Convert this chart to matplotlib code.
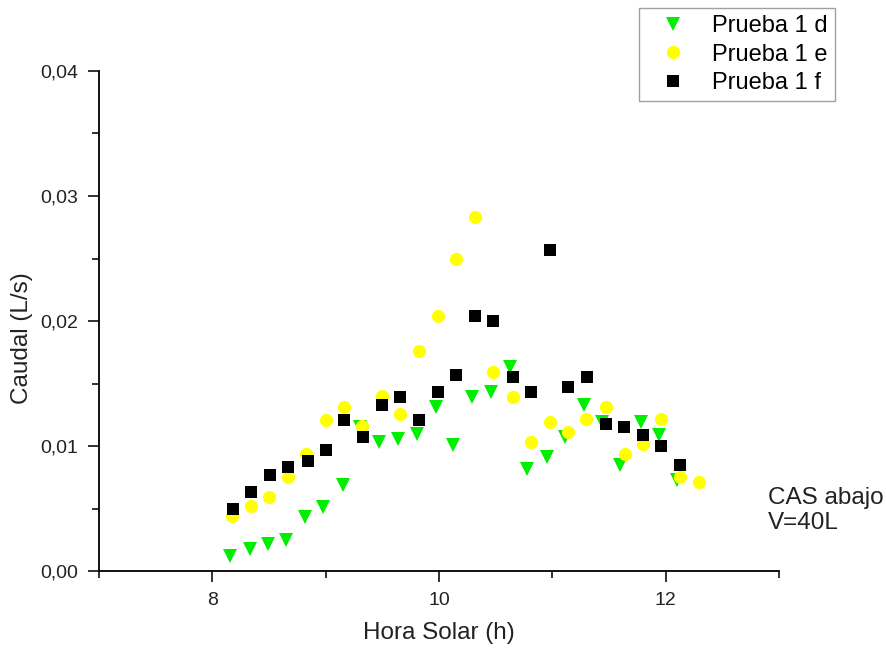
import matplotlib
matplotlib.use("Agg")
import matplotlib.pyplot as plt
from matplotlib.ticker import MultipleLocator, FuncFormatter

plt.rcParams['font.family'] = ['Liberation Sans', 'DejaVu Sans']

# Prueba 1 d (green triangles)
x_d = [8.16, 8.33, 8.49, 8.65, 8.82, 8.98, 9.15, 9.30, 9.47, 9.64, 9.81, 9.97,
       10.12, 10.29, 10.46, 10.63, 10.78, 10.95, 11.11, 11.28, 11.44, 11.60,
       11.78, 11.94, 12.10]
y_d = [0.0012, 0.0018, 0.0022, 0.0025, 0.0043, 0.0051, 0.0069, 0.0115, 0.0103,
       0.0106, 0.0110, 0.0131, 0.0101, 0.0139, 0.0143, 0.0163, 0.0082, 0.0091,
       0.0107, 0.0133, 0.0119, 0.0085, 0.0119, 0.0109, 0.0073]

# Prueba 1 e (yellow circles)
x_e = [8.17, 8.34, 8.50, 8.67, 8.83, 9.00, 9.16, 9.32, 9.50, 9.66, 9.82, 9.99,
       10.15, 10.32, 10.48, 10.65, 10.81, 10.98, 11.14, 11.30, 11.47, 11.64,
       11.80, 11.96, 12.13, 12.29]
y_e = [0.0044, 0.0052, 0.0059, 0.0075, 0.0094, 0.0121, 0.0131, 0.0116, 0.0140,
       0.0126, 0.0176, 0.0204, 0.0250, 0.0283, 0.0159, 0.0139, 0.0103, 0.0119,
       0.0111, 0.0122, 0.0131, 0.0094, 0.0102, 0.0122, 0.0075, 0.0071]

# Prueba 1 f (black squares)
x_f = [8.18, 8.34, 8.51, 8.67, 8.84, 9.00, 9.16, 9.33, 9.50, 9.66, 9.82, 9.99,
       10.15, 10.32, 10.48, 10.65, 10.81, 10.98, 11.14, 11.31, 11.47, 11.63,
       11.80, 11.96, 12.13]
y_f = [0.0050, 0.0063, 0.0077, 0.0083, 0.0088, 0.0097, 0.0121, 0.0107, 0.0133,
       0.0139, 0.0121, 0.0143, 0.0157, 0.0204, 0.0200, 0.0155, 0.0143, 0.0257,
       0.0147, 0.0155, 0.0118, 0.0115, 0.0109, 0.0100, 0.0085]

labels = ["Prueba 1 d", "Prueba 1 e", "Prueba 1 f"]

fig = plt.figure(figsize=(8.86, 6.48), dpi=100)
ax = fig.add_axes([99 / 886, 1 - 571 / 648, 680 / 886, 500 / 648])

ax.plot(x_d, y_d, linestyle='none', marker='v', markersize=10,
        color='#00EE00', markeredgewidth=0, label=labels[0])
ax.plot(x_e, y_e, linestyle='none', marker='o', markersize=9.5,
        color='#FFFF00', markeredgewidth=0, label=labels[1])
ax.plot(x_f, y_f, linestyle='none', marker='s', markersize=8.5,
        color='black', markeredgewidth=0, label=labels[2])

ax.set_xlim(7, 13)
ax.set_ylim(0, 0.04)
ax.spines['top'].set_visible(False)
ax.spines['right'].set_visible(False)
for s in ('left', 'bottom'):
    ax.spines[s].set_linewidth(1.3)

ax.xaxis.set_major_locator(MultipleLocator(2))
ax.xaxis.set_minor_locator(MultipleLocator(1))
ax.yaxis.set_major_locator(MultipleLocator(0.01))
ax.yaxis.set_minor_locator(MultipleLocator(0.005))
ax.yaxis.set_major_formatter(FuncFormatter(lambda v, p: f"{v:.2f}".replace('.', ',')))
ax.tick_params(which='major', direction='out', length=8, width=1.3,
               labelsize=14, pad=7, color='#222222', labelcolor='#222222')
ax.tick_params(which='minor', direction='out', length=5, width=1.3, color='#222222')

ax.set_xlabel("Hora Solar (h)", fontsize=17.5, color='#222222')
ax.set_ylabel("Caudal (L/s)", fontsize=17.5, color='#222222')
ax.xaxis.set_label_coords(0.5, -0.124)
ax.xaxis.label.set_va('center')
ax.yaxis.set_label_coords(-0.113, 0.465)
ax.yaxis.label.set_va('center')

leg = fig.legend(loc='upper right', bbox_to_anchor=(835 / 886, 1 - 8 / 648),
                 fontsize=17, frameon=True, fancybox=False, edgecolor='#888888',
                 borderpad=0.3, handletextpad=0.5, labelspacing=0.28,
                 handlelength=2.3, borderaxespad=0)
leg.get_frame().set_linewidth(1.0)

fig.text(768 / 886, 1 - 487 / 648, "CAS abajo\nV=40L", fontsize=17.5,
         va='top', ha='left', color='#222222', linespacing=1.2)

fig.savefig("out.png", dpi=100)
